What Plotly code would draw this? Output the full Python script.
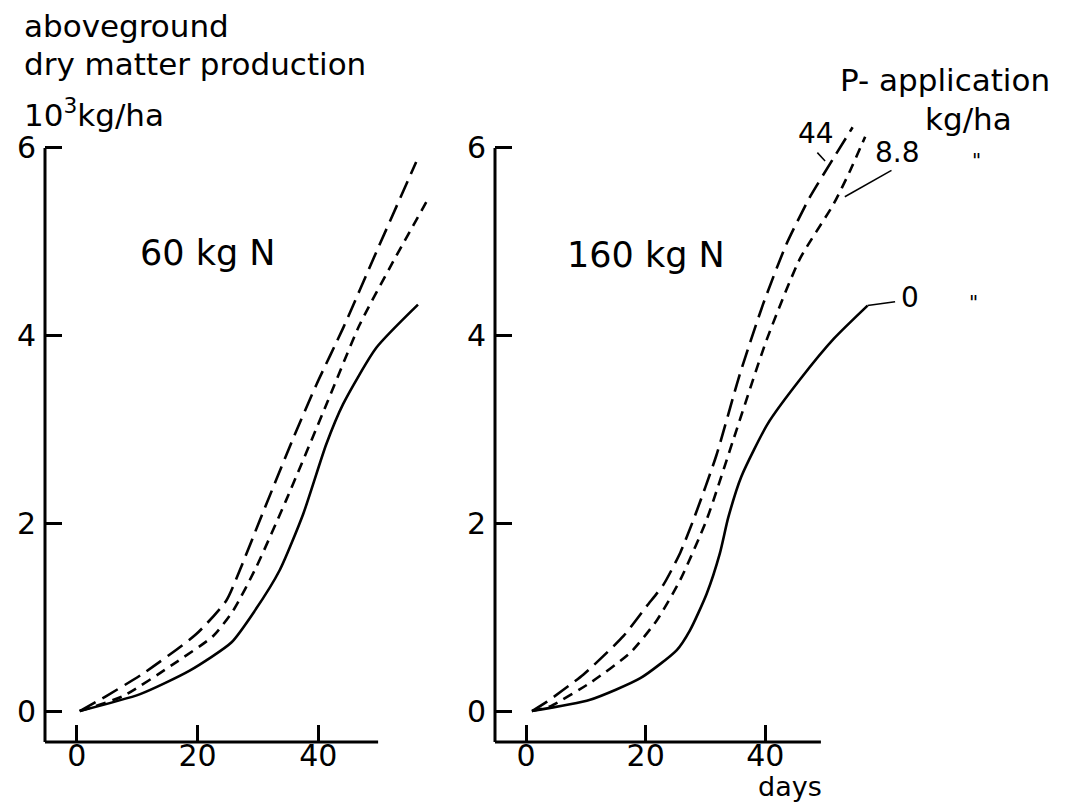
import plotly.graph_objects as go

W, H = 1065, 804
FONT = "DejaVu Sans"

# ---------------- data (days, aboveground dry matter 10^3 kg/ha) ----------------
# 60 kg N
days_60_p0 = [0.5, 10.5, 18.7, 25.6, 29.5, 33.6, 37.5, 41.3, 44.1, 49.6, 56.5]
dm_60_p0 = [0.0, 0.18, 0.43, 0.73, 1.07, 1.50, 2.10, 2.84, 3.27, 3.87, 4.33]

days_60_p88 = [0.5, 7.7, 16.0, 22.6, 25.9, 29.7, 34.7, 41.3, 46.8, 52.4, 58.2]
dm_60_p88 = [0.0, 0.16, 0.50, 0.80, 1.07, 1.53, 2.25, 3.26, 4.11, 4.79, 5.46]

days_60_p44 = [0.5, 4.9, 11.0, 19.8, 24.8, 27.0, 30.3, 35.8, 39.7, 44.1, 49.6, 56.2]
dm_60_p44 = [0.0, 0.16, 0.40, 0.82, 1.18, 1.50, 2.03, 2.90, 3.48, 4.08, 4.89, 5.85]

# 160 kg N
days_160_p0 = [0.95, 10.7, 19.1, 25.2, 27.4, 30.2, 32.4, 33.8, 36.0, 40.4, 45.9, 51.5, 57.1]
dm_160_p0 = [0.0, 0.12, 0.35, 0.65, 0.86, 1.25, 1.68, 2.06, 2.50, 3.06, 3.54, 3.97, 4.32]

days_160_p88 = [1.0, 4.0, 10.7, 17.4, 21.9, 25.8, 30.2, 34.7, 40.2, 45.8, 51.4, 54.2, 56.7]
dm_160_p88 = [0.0, 0.05, 0.30, 0.62, 0.97, 1.40, 2.04, 2.90, 3.95, 4.82, 5.40, 5.76, 6.12]

days_160_p44 = [1.0, 3.5, 9.6, 16.3, 20.2, 23.0, 25.8, 28.0, 31.8, 35.7, 39.6, 43.5, 47.4, 51.3, 54.6]
dm_160_p44 = [0.0, 0.10, 0.39, 0.80, 1.12, 1.35, 1.69, 2.04, 2.72, 3.58, 4.33, 4.97, 5.47, 5.88, 6.22]

x_ticks = [0, 20, 40]
y_ticks = [0, 2, 4, 6]

# ---------------- figure ----------------
XR1 = [-5.25, 62]
XR2 = [-5.2, 65]
YR = [-0.33, 6.5]
X_AXIS_END1 = 49.9
X_AXIS_END2 = 49.3
Y_AXIS_END = 6

fig = go.Figure()

LONG = "18px,8px"
SHORT = "10px,7px"


def add(xa, ya, x, y, dash):
    fig.add_trace(go.Scatter(
        x=x, y=y, mode="lines", xaxis=xa, yaxis=ya,
        line=dict(color="black", width=2.6, dash=dash, shape="spline", smoothing=0.6),
        showlegend=False, hoverinfo="skip"))


add("x", "y", days_60_p0, dm_60_p0, "solid")
add("x", "y", days_60_p88, dm_60_p88, SHORT)
add("x", "y", days_60_p44, dm_60_p44, LONG)
add("x2", "y2", days_160_p0, dm_160_p0, "solid")
add("x2", "y2", days_160_p88, dm_160_p88, SHORT)
add("x2", "y2", days_160_p44, dm_160_p44, LONG)

tickfont = dict(family=FONT, size=30, color="black")
common_x = dict(tickvals=x_ticks, ticks="inside", ticklen=17, tickwidth=2.5, tickcolor="black",
                showline=False, showgrid=False, zeroline=False, tickfont=tickfont,
                ticklabelstandoff=-7)
common_y = dict(tickvals=y_ticks, ticks="inside", ticklen=17, tickwidth=2.5, tickcolor="black",
                showline=False, showgrid=False, zeroline=False, tickfont=tickfont,
                ticklabelstandoff=8, range=YR, domain=[(H - 742) / H, (H - 101) / H])

fig.update_layout(
    width=W, height=H, margin=dict(l=0, r=0, t=0, b=0),
    paper_bgcolor="white", plot_bgcolor="white",
    xaxis=dict(domain=[45 / W, 451.2 / W], range=XR1, anchor="y", **common_x),
    yaxis=dict(anchor="x", **common_y),
    xaxis2=dict(domain=[495 / W, 914.8 / W], range=XR2, anchor="y2", **common_x),
    yaxis2=dict(anchor="x2", **common_y),
)


def frac(v, r):
    return (v - r[0]) / (r[1] - r[0])


# axis lines (limited extent, like the original drawing)
for xa, ya, xr, xend in [("x", "y", XR1, X_AXIS_END1), ("x2", "y2", XR2, X_AXIS_END2)]:
    fig.add_shape(type="line", xref=f"{xa} domain", yref=f"{ya} domain",
                  x0=0, x1=frac(xend, xr), y0=0, y1=0, line=dict(color="black", width=3))
    fig.add_shape(type="line", xref=f"{xa} domain", yref=f"{ya} domain",
                  x0=0, x1=0, y0=0, y1=frac(Y_AXIS_END, YR), line=dict(color="black", width=3))

# leader lines for curve labels (160 kg N panel)
leaders = [((57.1, 4.32), (61.7, 4.36)),
           ((53.3, 5.48), (61.1, 5.76)),
           ((48.7, 5.95), (50.0, 5.86))]
for (a, b) in leaders:
    fig.add_shape(type="line", xref="x2", yref="y2", x0=a[0], y0=a[1], x1=b[0], y1=b[1],
                  line=dict(color="black", width=1.5))


def ann(text, x, y, size, xref="paper", yref="paper", xanchor="left"):
    fig.add_annotation(text=text, x=x, y=y, xref=xref, yref=yref, showarrow=False,
                       xanchor=xanchor, yanchor="middle",
                       font=dict(family=FONT, size=size, color="black"))


# y-axis title (three lines)
ann("aboveground", 22 / W, 1 - 26 / H, 31)
ann("dry matter production", 22 / W, 1 - 64 / H, 31)
ann("10<sup>3</sup>kg/ha", 22 / W, 1 - 113 / H, 31)

# panel labels
ann("60 kg N", 138 / W, 1 - 253 / H, 35)
ann("160 kg N", 565 / W, 1 - 255 / H, 35)

# x-axis title
ann("days", 790 / W, 1 - 786 / H, 27, xanchor="center")

# P application legend
ann("P- application", 945 / W, 1 - 80 / H, 31, xanchor="center")
ann("kg/ha", 968 / W, 1 - 119 / H, 31, xanchor="center")
ann("44", 48.4, 6.15, 28, xref="x2", yref="y2", xanchor="center")
ann("8.8", 62.1, 5.95, 28, xref="x2", yref="y2", xanchor="center")
ann("0", 64.2, 4.41, 28, xref="x2", yref="y2", xanchor="center")
ann("\"", 976 / W, 1 - 160 / H, 20, xanchor="center")
ann("\"", 973 / W, 1 - 302 / H, 20, xanchor="center")

fig.write_html("out.html")
